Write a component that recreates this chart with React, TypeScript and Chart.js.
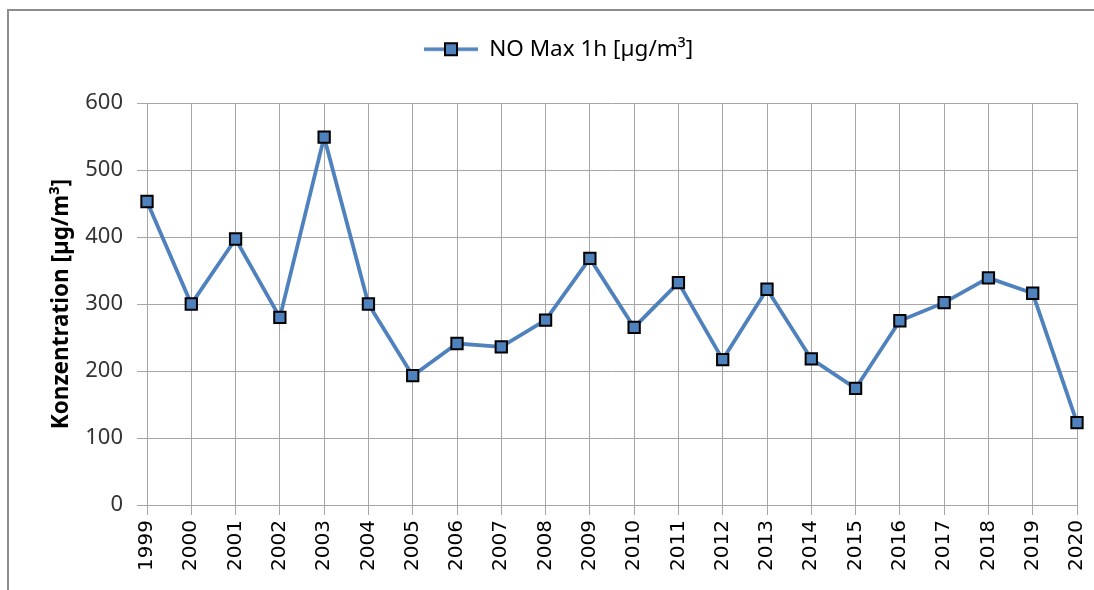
import React, { useEffect, useRef } from "react";
import { Chart, registerables } from "chart.js";

Chart.register(...registerables);

const years: string[] = [
  "1999", "2000", "2001", "2002", "2003", "2004", "2005", "2006", "2007", "2008", "2009",
  "2010", "2011", "2012", "2013", "2014", "2015", "2016", "2017", "2018", "2019", "2020",
];
const noMax1h: number[] = [
  453, 300, 397, 280, 549, 300, 193, 241, 236, 276, 368,
  265, 332, 217, 322, 218, 174, 275, 302, 339, 316, 123,
];
const seriesLabel = "NO Max 1h [µg/m³]";
const yTitle = "Konzentration [µg/m³]";

const BLUE = "#4f81bd";
const GRID = "#a6a6a6";
const FONT = "'Noto Sans', 'DejaVu Sans', sans-serif";
const XFONT = "'DejaVu Sans', sans-serif";

function makeLegendIcon(): HTMLCanvasElement {
  const c = document.createElement("canvas");
  c.width = 54;
  c.height = 18;
  const ctx = c.getContext("2d")!;
  ctx.strokeStyle = BLUE;
  ctx.lineWidth = 3.5;
  ctx.beginPath();
  ctx.moveTo(0, 9);
  ctx.lineTo(54, 9);
  ctx.stroke();
  ctx.fillStyle = BLUE;
  ctx.fillRect(21, 3, 12, 12);
  ctx.strokeStyle = "#000";
  ctx.lineWidth = 2;
  ctx.strokeRect(21, 3, 12, 12);
  return c;
}

export default function App() {
  const ref = useRef<HTMLCanvasElement | null>(null);

  useEffect(() => {
    if (!ref.current) return;
    const icon = makeLegendIcon();

    const framePlugin = {
      id: "frame",
      beforeDraw(chart: any) {
        const ctx = chart.ctx;
        ctx.save();
        ctx.fillStyle = "#fff";
        ctx.fillRect(0, 0, chart.width, chart.height);
        ctx.strokeStyle = "#8c8c8c";
        ctx.lineWidth = 2;
        ctx.strokeRect(8, 10, chart.width + 20, chart.height + 20);
        ctx.restore();
      },
    };

    const legendSpace = {
      id: "legendSpace",
      afterInit(chart: any) {
        const lg = chart.legend;
        if (!lg) return;
        const orig = lg.fit;
        lg.fit = function () {
          orig.call(this);
          this.height = 75;
        };
      },
      afterLayout(chart: any) {
        const lg = chart.legend;
        if (!lg) return;
        lg.left += 20;
        lg.right += 20;
      },
    };

    const chart = new Chart(ref.current, {
      type: "line",
      data: {
        labels: years,
        datasets: [
          {
            label: seriesLabel,
            data: noMax1h,
            borderColor: BLUE,
            backgroundColor: BLUE,
            borderWidth: 3.8,
            pointStyle: "rect",
            pointRadius: 8,
            pointHoverRadius: 8,
            pointBackgroundColor: BLUE,
            pointBorderColor: "#000",
            pointBorderWidth: 2,
            tension: 0,
          },
        ],
      },
      options: {
        animation: false,
        responsive: true,
        maintainAspectRatio: false,
        layout: { padding: { top: 28, right: 17, left: 0, bottom: 0 } },
        plugins: {
          tooltip: { enabled: false },
          legend: {
            position: "top",
            align: "center",
            labels: {
              usePointStyle: true,
              pointStyleWidth: 54,
              padding: 10,
              color: "#000",
              font: { family: FONT, size: 22.5 },
              generateLabels: () => [
                {
                  text: seriesLabel,
                  pointStyle: icon,
                  fillStyle: BLUE,
                  strokeStyle: BLUE,
                  lineWidth: 0,
                  hidden: false,
                  datasetIndex: 0,
                } as any,
              ],
            },
          },
        },
        scales: {
          x: {
            offset: false,
            grid: {
              color: GRID,
              lineWidth: 1,
              drawTicks: true,
              tickLength: 10,
            },
            border: { color: GRID, width: 1 },
            ticks: {
              autoSkip: false,
              minRotation: 90,
              maxRotation: 90,
              padding: 5,
              color: "#000",
              font: { family: XFONT, size: 20 },
            },
            afterFit(scale: any) {
              scale.height = 85;
              scale.paddingLeft = 0;
              scale.paddingRight = 0;
            },
          },
          y: {
            min: 0,
            max: 600,
            ticks: {
              stepSize: 100,
              padding: 14,
              color: "#333",
              font: { family: FONT, size: 22 },
            },
            grid: {
              color: GRID,
              lineWidth: 1,
              drawTicks: true,
              tickLength: 10,
            },
            border: { color: GRID, width: 1 },
            title: {
              display: true,
              text: yTitle,
              color: "#000",
              font: { family: FONT, size: 22.5, weight: "bold" },
              padding: { top: 48, bottom: 0 },
            },
            afterFit(scale: any) {
              scale.width = 147;
            },
          },
        },
      },
      plugins: [framePlugin, legendSpace],
    } as any);

    return () => chart.destroy();
  }, []);

  return (
    <div style={{ position: "fixed", left: 0, top: 0, width: 1094, height: 590, background: "#fff" }}>
      <canvas ref={ref} />
    </div>
  );
}
